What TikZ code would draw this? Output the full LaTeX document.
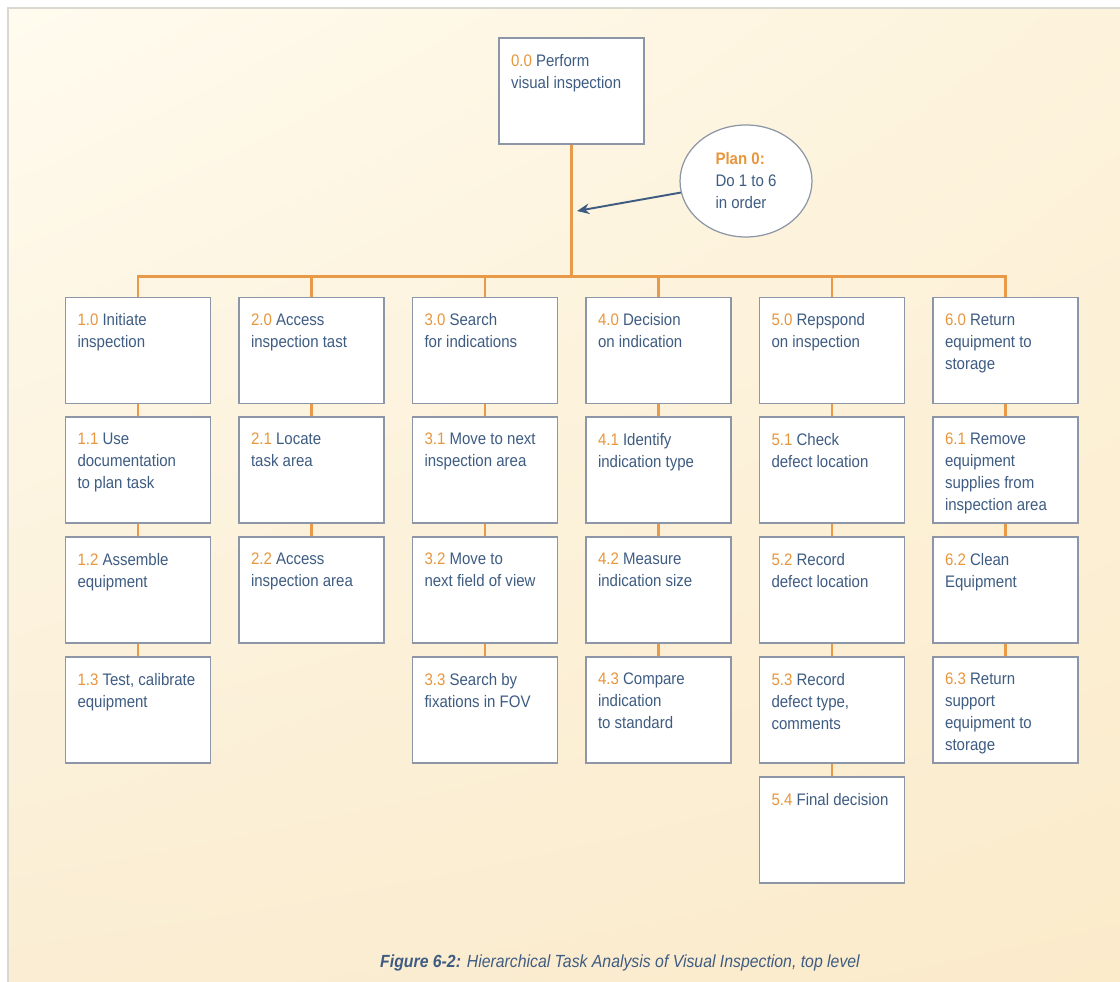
\documentclass[tikz,border=0pt]{standalone}
\usepackage{fontspec}
\setmainfont{Liberation Sans}[FakeStretch=0.9]
\usepackage{xcolor}
\usetikzlibrary{arrows.meta, shapes.geometric, shadings}

\definecolor{numorange}{HTML}{E8963C}
\definecolor{linkorange}{HTML}{E99A48}
\definecolor{txtblue}{HTML}{3E5C82}
\definecolor{boxgray}{HTML}{8C96A6}
\definecolor{framegray}{HTML}{D9D8D0}
\definecolor{creamA}{HTML}{FFFBEE}
\definecolor{creamB}{HTML}{FDF3DC}
\definecolor{creamC}{HTML}{FAEDD3}
\definecolor{creamD}{HTML}{FBEBCB}

% box text: number in orange, then the task
\newcommand{\tasktext}[2]{\parbox[c][1.48cm][t]{2.42cm}{\raggedright\textcolor{numorange}{#1} #2}}

\begin{document}
\begin{tikzpicture}[x=0.02cm, y=-0.02cm,
  font=\fontsize{9.5}{12.5}\selectfont,
  task/.style={draw=boxgray, line width=0.8pt, fill=white, text=txtblue, inner xsep=0.24cm, inner ysep=0.32cm},
  link/.style={draw=linkorange, line width=1.7pt},
  plan/.style={ellipse, draw=boxgray, line width=0.7pt, fill=white, text=txtblue, minimum width=2.64cm, minimum height=2.24cm, align=left}]
\useasboundingbox (0,0) rectangle (1120,982);

% backdrop
\shade[upper left=creamA, upper right=creamB, lower left=creamC, lower right=creamD] (8,8) rectangle (1120,982);
\draw[framegray, line width=1pt] (8,982) -- (8,8) -- (1120,8);

% top task and plan
\node[task] (t00) at (571.5,91) {\tasktext{0.0}{Perform\\visual inspection}};
\node[plan] (plan) at (746,181) {{\bfseries\color{numorange}Plan 0:}\\Do 1 to 6\\in order};
\coordinate (bus) at (571.5,277);
\coordinate (plantip) at (577,211);

% first level
\node[task] (t10) at (138,350.5) {\tasktext{1.0}{Initiate\\inspection}};
\node[task] (t20) at (311.5,350.5) {\tasktext{2.0}{Access\\inspection tast}};
\node[task] (t30) at (485,350.5) {\tasktext{3.0}{Search\\for indications}};
\node[task] (t40) at (658.5,350.5) {\tasktext{4.0}{Decision\\on indication}};
\node[task] (t50) at (832,350.5) {\tasktext{5.0}{Repspond\\on inspection}};
\node[task] (t60) at (1005.5,350.5) {\tasktext{6.0}{Return\\equipment to\\storage}};

% subtasks
\node[task] (t11) at (138,470) {\tasktext{1.1}{Use\\documentation\\to plan task}};
\node[task] (t12) at (138,590) {\tasktext{1.2}{Assemble\\equipment}};
\node[task] (t13) at (138,710) {\tasktext{1.3}{Test, calibrate\\equipment}};

\node[task] (t21) at (311.5,470) {\tasktext{2.1}{Locate\\task area}};
\node[task] (t22) at (311.5,590) {\tasktext{2.2}{Access\\inspection area}};

\node[task] (t31) at (485,470) {\tasktext{3.1}{Move to next\\inspection area}};
\node[task] (t32) at (485,590) {\tasktext{3.2}{Move to\\next field of view}};
\node[task] (t33) at (485,710) {\tasktext{3.3}{Search by\\fixations in FOV}};

\node[task] (t41) at (658.5,470) {\tasktext{4.1}{Identify\\indication type}};
\node[task] (t42) at (658.5,590) {\tasktext{4.2}{Measure\\indication size}};
\node[task] (t43) at (658.5,710) {\tasktext{4.3}{Compare\\indication\\to standard}};

\node[task] (t51) at (832,470) {\tasktext{5.1}{Check\\defect location}};
\node[task] (t52) at (832,590) {\tasktext{5.2}{Record\\defect location}};
\node[task] (t53) at (832,710) {\tasktext{5.3}{Record\\defect type,\\comments}};
\node[task] (t54) at (832,830) {\tasktext{5.4}{Final decision}};

\node[task] (t61) at (1005.5,470) {\tasktext{6.1}{Remove\\equipment\\supplies from\\inspection area}};
\node[task] (t62) at (1005.5,590) {\tasktext{6.2}{Clean\\Equipment}};
\node[task] (t63) at (1005.5,710) {\tasktext{6.3}{Return\\support\\equipment to\\storage}};

% tree lines
\draw[link] (t00) -- (bus);
\draw[link] (t10.north) |- (t60.north |- bus) -- (t60.north);
\draw[link] (t20.north) -- (t20.north |- bus);
\draw[link] (t30.north) -- (t30.north |- bus);
\draw[link] (t40.north) -- (t40.north |- bus);
\draw[link] (t50.north) -- (t50.north |- bus);
\draw[link] (t10) -- (t11);
\draw[link] (t11) -- (t12);
\draw[link] (t12) -- (t13);
\draw[link] (t20) -- (t21);
\draw[link] (t21) -- (t22);
\draw[link] (t30) -- (t31);
\draw[link] (t31) -- (t32);
\draw[link] (t32) -- (t33);
\draw[link] (t40) -- (t41);
\draw[link] (t41) -- (t42);
\draw[link] (t42) -- (t43);
\draw[link] (t50) -- (t51);
\draw[link] (t51) -- (t52);
\draw[link] (t52) -- (t53);
\draw[link] (t53) -- (t54);
\draw[link] (t60) -- (t61);
\draw[link] (t61) -- (t62);
\draw[link] (t62) -- (t63);

% plan arrow
\draw[-{Stealth[length=7pt, width=6pt]}, txtblue, line width=1.1pt] (plan) -- (plantip);

% caption
\node[text=txtblue, font=\fontsize{10}{12}\selectfont\itshape] (cap) at (620,963) {{\bfseries Figure 6-2:} Hierarchical Task Analysis of Visual Inspection, top level};
\end{tikzpicture}
\end{document}
